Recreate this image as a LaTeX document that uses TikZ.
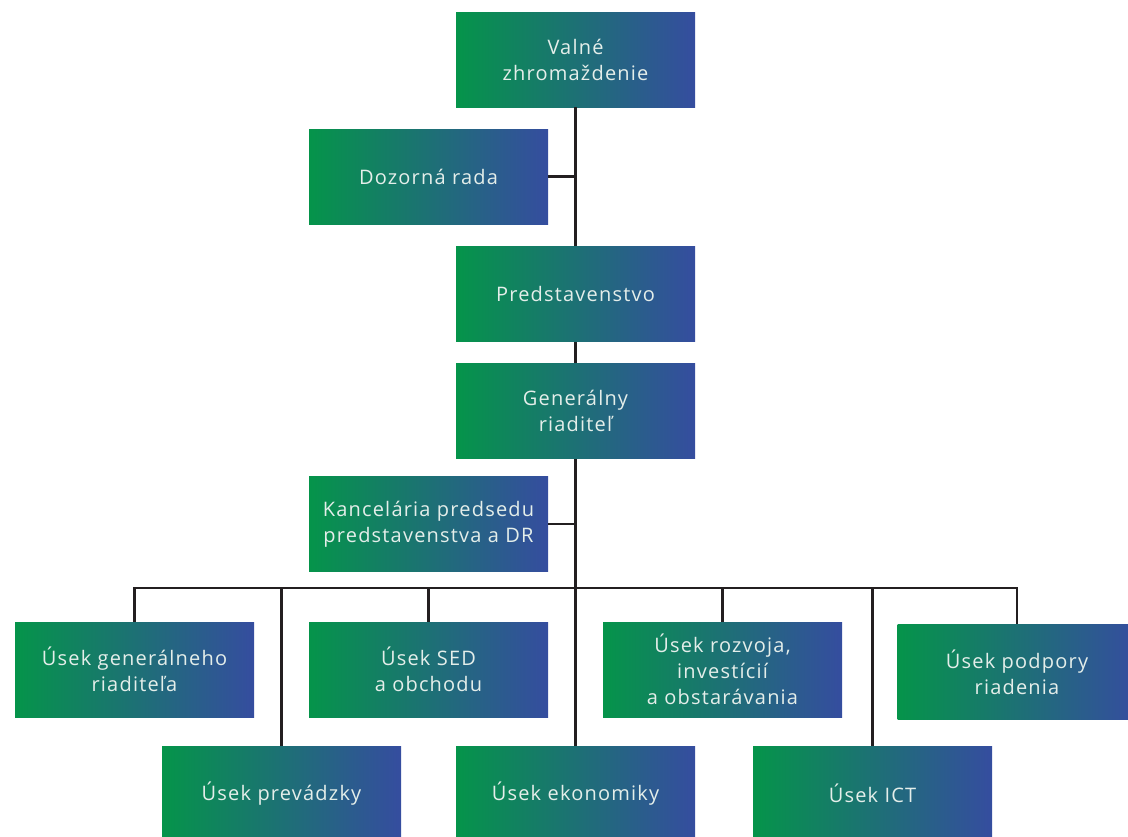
\documentclass[tikz,border=0pt]{standalone}
\usepackage{fontspec}
\setmainfont{Open Sans}[LetterSpace=6]
\definecolor{lg}{HTML}{05944A}
\definecolor{lb}{HTML}{354D9F}
\definecolor{tx}{HTML}{E4EEEA}
\definecolor{ln}{HTML}{231F20}
\begin{document}
\begin{tikzpicture}[x=0.75pt,y=-0.75pt,
  box/.style={minimum width=179.25pt, minimum height=71.25pt, inner sep=0pt,
    align=center, left color=lg, right color=lb, text=tx,
    font=\fontsize{15pt}{19.5pt}\selectfont},
  conn/.style={draw=ln, line width=2pt}]
\useasboundingbox (0,0) rectangle (1128,836);
\node[box] (vz) at (575.5,59.5) {Valné\\zhromaždenie};
\node[box] (dr) at (428.5,176.5) {Dozorná rada};
\node[box] (pr) at (575.5,294) {Predstavenstvo};
\node[box] (gr) at (575.5,411) {Generálny\\riaditeľ};
\node[box] (kan) at (428.5,524) {Kancelária predsedu\\predstavenstva a DR};
\node[box] (ugr) at (134.5,669.5) {Úsek generálneho\\riaditeľa};
\node[box] (sed) at (428.5,669.5) {Úsek SED\\a obchodu};
\node[box] (roz) at (722.5,669.5) {Úsek rozvoja,\\investícií\\a obstarávania};
\node[box] (pod) at (1017,672) {Úsek podpory\\riadenia};
\node[box] (prev) at (281.5,793.5) {Úsek prevádzky};
\node[box] (eko) at (575.5,793.5) {Úsek ekonomiky};
\node[box] (ict) at (872.5,793.5) {Úsek ICT};
\coordinate (bus) at (0,588);
\draw[conn] (vz.south) -- (pr.north);
\draw[conn] (pr.south) -- (gr.north);
\draw[conn] (gr.south) -- (eko.north);
\draw[conn] (dr.east) -- (dr.east -| vz.south);
\draw[conn] (kan.east) -- (kan.east -| gr.south);
\draw[conn, line cap=rect] (ugr.north |- bus) -- (pod.north |- bus);
\draw[conn] (ugr.north |- bus) -- (ugr.north);
\draw[conn] (prev.north |- bus) -- (prev.north);
\draw[conn] (sed.north |- bus) -- (sed.north);
\draw[conn] (roz.north |- bus) -- (roz.north);
\draw[conn] (ict.north |- bus) -- (ict.north);
\draw[conn] (pod.north |- bus) -- (pod.north);
\end{tikzpicture}
\end{document}
